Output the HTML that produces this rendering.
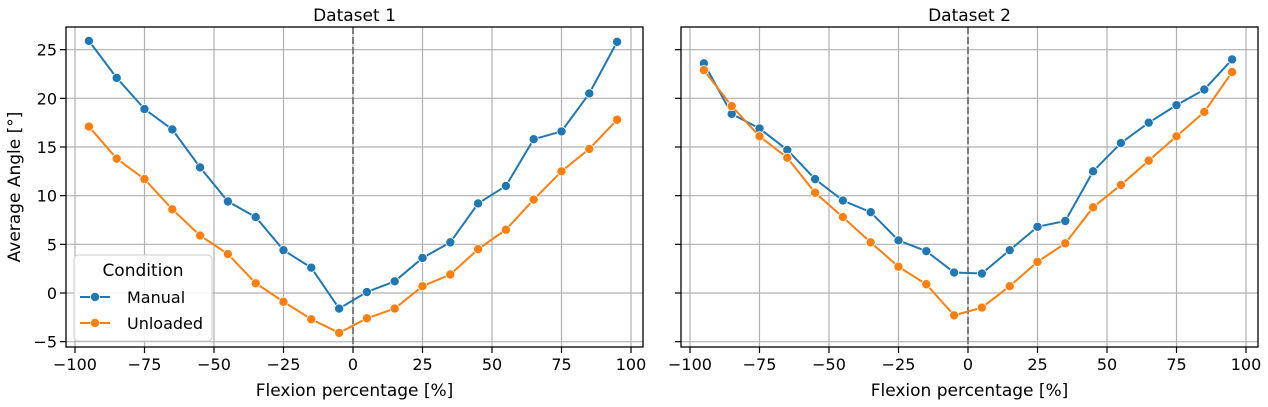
<!DOCTYPE html>
<html><head><meta charset="utf-8"><style>
html,body{margin:0;padding:0;background:#fff;}
svg{display:block;font-family:"DejaVu Sans","Liberation Sans",sans-serif;}
</style></head><body>
<svg id="chart" width="1268" height="407"></svg>
<script>
const xCats = [-95,-85,-75,-65,-55,-45,-35,-25,-15,-5,5,15,25,35,45,55,65,75,85,95];
const d1Manual = [25.9,22.1,18.9,16.8,12.9,9.4,7.8,4.4,2.6,-1.6,0.1,1.2,3.6,5.2,9.2,11.0,15.8,16.6,20.5,25.8];
const d1Unloaded = [17.1,13.8,11.7,8.6,5.9,4.0,1.0,-0.9,-2.7,-4.1,-2.6,-1.6,0.7,1.9,4.5,6.5,9.6,12.5,14.8,17.8];
const d2Manual = [23.6,18.4,16.9,14.7,11.7,9.5,8.3,5.4,4.3,2.1,2.0,4.4,6.8,7.4,12.5,15.4,17.5,19.3,20.9,24.0];
const d2Unloaded = [22.9,19.2,16.1,13.9,10.3,7.8,5.2,2.7,0.9,-2.3,-1.5,0.7,3.2,5.1,8.8,11.1,13.6,16.1,18.6,22.7];
const xTicks = [-100,-75,-50,-25,0,25,50,75,100];
const yTicks = [-5,0,5,10,15,20,25];
const titles = ["Dataset 1","Dataset 2"];

const NS="http://www.w3.org/2000/svg";
const svg=document.getElementById('chart');
function mk(tag,attrs,parent){const e=document.createElementNS(NS,tag);for(const k in attrs)e.setAttribute(k,attrs[k]);(parent||svg).appendChild(e);return e;}
const plotTop=27,plotBottom=347;
function yS(v){return 293-(v*292/30);}
const panels=[{l:66,r:643,x0:75,series:[d1Manual,d1Unloaded]},{l:681,r:1258,x0:690,series:[d2Manual,d2Unloaded]}];
const colors=["#1f77b4","#ff7f0e"];
const names=["manual","unloaded"];
panels.forEach((p,pi)=>{
  const xS=v=>p.x0+(v+100)*2.78;
  const g=mk('g',{});
  
  
  xTicks.forEach(t=>{
    const x=xS(t);
    mk('line',{x1:x,x2:x,y1:plotTop,y2:plotBottom,stroke:'#b0b0b0','stroke-width':1.2},g);
    mk('line',{x1:x,x2:x,y1:plotBottom,y2:plotBottom+6,stroke:'#000','stroke-width':1.2},g);
    const tx=mk('text',{x:x,y:plotBottom+23,'text-anchor':'middle','font-size':16},g);
    tx.textContent=(t<0?'\u2212'+(-t):t);
    
    
  });
  yTicks.forEach(t=>{
    const y=yS(t);
    mk('line',{x1:p.l,x2:p.r,y1:y,y2:y,stroke:'#b0b0b0','stroke-width':1.2},g);
    mk('line',{x1:p.l-6,x2:p.l,y1:y,y2:y,stroke:'#000','stroke-width':1.2},g);
    if(pi===0){
      const tx=mk('text',{x:p.l-9,y:y+6,'text-anchor':'end','font-size':16},g);
      tx.textContent=(t<0?'\u2212'+(-t):t);
      
      
    }
  });
  mk('line',{x1:xS(0),x2:xS(0),y1:plotTop,y2:plotBottom,stroke:'#808080','stroke-width':2,'stroke-dasharray':'7,3'},g);
  p.series.forEach((s,si)=>{
    const pts=xCats.map((c,i)=>xS(c)+','+yS(s[i])).join(' ');
    const pl=mk('polyline',{points:pts,fill:'none',stroke:colors[si],'stroke-width':2},g);
    
    
    xCats.forEach((c,i)=>{
      const ci=mk('circle',{cx:xS(c),cy:yS(s[i]),r:4.6,fill:colors[si],stroke:'#fff','stroke-width':0.8},g);
      
      
    });
  });
  mk('rect',{x:p.l,y:plotTop,width:p.r-p.l,height:plotBottom-plotTop,fill:'none',stroke:'#000','stroke-width':1.3},g);
  const tt=mk('text',{x:(p.l+p.r)/2,y:21,'text-anchor':'middle','font-size':17},g);
  tt.textContent=titles[pi];
  
  
  const xl=mk('text',{x:(p.l+p.r)/2,y:396,'text-anchor':'middle','font-size':17},g);
  xl.textContent='Flexion percentage [%]';
  
  
});
const yl=mk('text',{x:20,y:187,'text-anchor':'middle','font-size':17,transform:'rotate(-90 20 187)'});
yl.textContent='Average Angle [°]';


const lg=mk('g',{});


mk('rect',{x:74,y:255,width:138,height:86,rx:4,fill:'#fff','fill-opacity':0.85,stroke:'#ccc'},lg);
const lt=mk('text',{x:143,y:276,'text-anchor':'middle','font-size':17},lg);
lt.textContent='Condition';
["Manual","Unloaded"].forEach((n,i)=>{
  const y=297+i*26;
  mk('line',{x1:80,x2:110,y1:y,y2:y,stroke:colors[i],'stroke-width':2},lg);
  mk('circle',{cx:95,cy:y,r:4.6,fill:colors[i],stroke:'#fff','stroke-width':0.8},lg);
  const t=mk('text',{x:127,y:y+6,'font-size':16},lg);
  t.textContent=n;
  
  
});
</script>
</body></html>
